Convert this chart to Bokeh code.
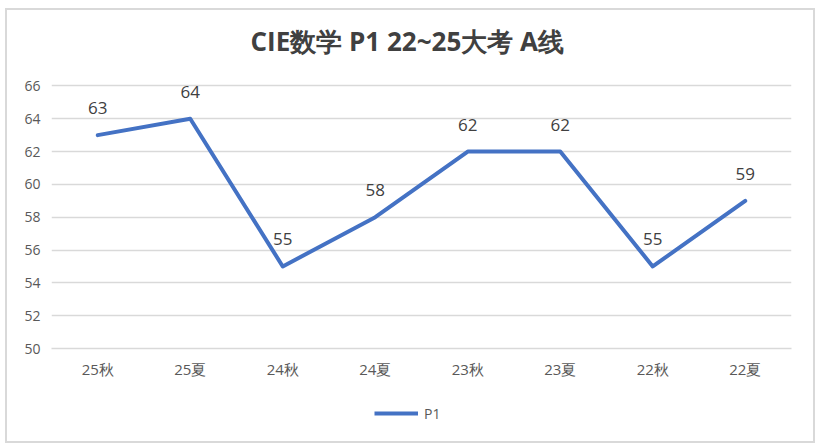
from bokeh.plotting import figure
from bokeh.models import ColumnDataSource, LabelSet, Label, Legend, LegendItem, Range1d, FixedTicker
from bokeh.layouts import column
from bokeh.core.properties import value
from bokeh.embed import file_html
from bokeh.resources import INLINE

categories = ["25秋", "25夏", "24秋", "24夏", "23秋", "23夏", "22秋", "22夏"]
p1_values = [63, 64, 55, 58, 62, 62, 55, 59]
y_ticks = [50, 52, 54, 56, 58, 60, 62, 64, 66]
title_text = "CIE数学 P1 22~25大考 A线"
series_name = "P1"

FONT = "Open Sans"
LINE_COLOR = "#4472C4"
W = 806

src = ColumnDataSource(dict(x=categories, y=p1_values, lab=[str(v) for v in p1_values]))

# title strip
p0 = figure(x_range=Range1d(0, W), y_range=Range1d(0, 59), width=W, height=59,
            output_backend="svg", toolbar_location=None,
            min_border_left=0, min_border_right=0, min_border_top=0, min_border_bottom=0)
p0.outline_line_color = None
p0.axis.visible = False
p0.grid.visible = False
p0.add_layout(Label(x=387.5, y=29, text=title_text, text_align="center", text_baseline="middle",
                    text_font=FONT, text_font_size="26px", text_font_style="bold",
                    text_color="#404040"))

# main chart
p = figure(x_range=categories, y_range=Range1d(50, 67), width=W, height=319,
           output_backend="svg", toolbar_location=None,
           min_border_left=44, min_border_right=22, min_border_top=0, min_border_bottom=40)
p.outline_line_color = None
p.border_fill_color = "white"
p.background_fill_color = "white"

r = p.line("x", "y", source=src, line_width=4, line_color=LINE_COLOR, line_cap="round", line_join="round")

labels = LabelSet(x="x", y="y", text="lab", source=src, text_align="center", text_baseline="bottom",
                  y_offset=21, text_font=value(FONT), text_font_size="17px", text_color="#404040")
p.add_layout(labels)

p.yaxis.ticker = FixedTicker(ticks=y_ticks)
p.ygrid.ticker = FixedTicker(ticks=y_ticks)
p.ygrid.grid_line_color = "#d9d9d9"
p.ygrid.grid_line_width = 1.5
p.xgrid.grid_line_color = None
p.yaxis.axis_line_color = None
p.yaxis.major_tick_line_color = None
p.yaxis.minor_tick_line_color = None
p.xaxis.axis_line_color = "#d9d9d9"
p.xaxis.axis_line_width = 1.5
p.xaxis.major_tick_line_color = None
p.xaxis.minor_tick_line_color = None
for ax in (p.xaxis, p.yaxis):
    ax.major_label_text_font = FONT
    ax.major_label_text_color = "#595959"
p.yaxis.major_label_text_font_size = "14px"
p.xaxis.major_label_text_font_size = "15px"
p.xaxis.major_label_standoff = 4
p.yaxis.major_label_standoff = 5

# legend strip below the chart
p2 = figure(x_range=categories, y_range=Range1d(0, 1), width=W, height=53,
            output_backend="svg", toolbar_location=None,
            min_border_left=0, min_border_right=0, min_border_top=0, min_border_bottom=0)
p2.outline_line_color = None
p2.axis.visible = False
p2.grid.visible = False
r2 = p2.line("x", "y", source=src, line_width=4, line_color=LINE_COLOR)

legend = Legend(items=[LegendItem(label=series_name, renderers=[r2])], orientation="horizontal",
                location=(323, 18), border_line_color=None, background_fill_alpha=0,
                label_text_font=FONT, label_text_font_size="14px", label_text_color="#595959",
                glyph_width=44, glyph_height=20, label_standoff=6, margin=0, padding=0)
p2.add_layout(legend)

layout = column(p0, p, p2, spacing=0,
                styles={"border": "2px solid #d9d9d9", "margin-left": "5px", "margin-top": "8px",
                        "background-color": "white"})

open("out.html", "w").write(file_html(layout, INLINE))
